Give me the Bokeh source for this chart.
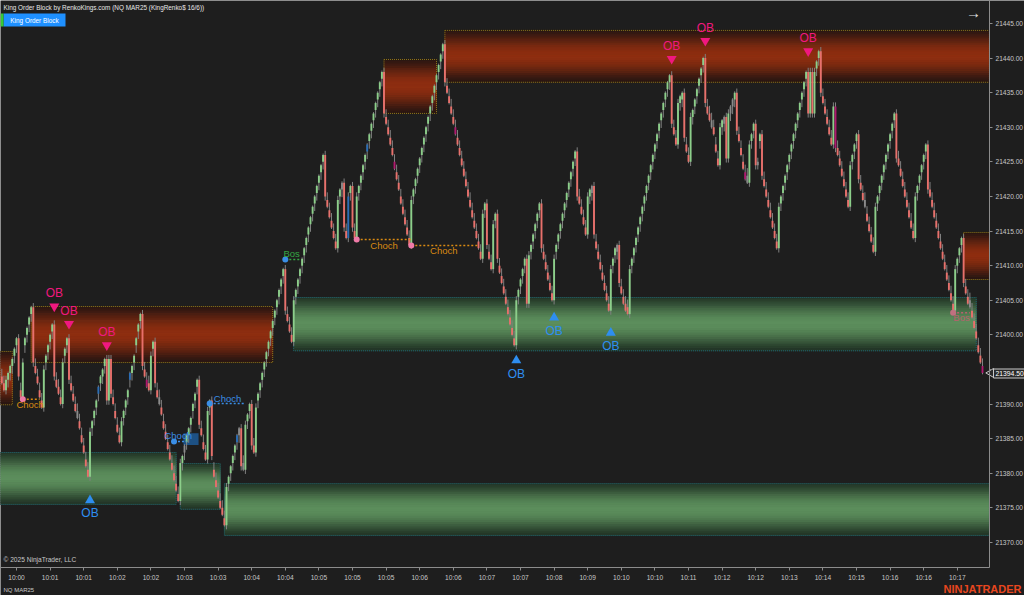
import math
from bokeh.plotting import figure
from bokeh.models import Range1d, FixedTicker, Label, ColumnDataSource, NumeralTickFormatter, LinearAxis
from bokeh.core.properties import value
from bokeh.embed import file_html
from bokeh.resources import INLINE

# ---------------- data ----------------
closes = [
    21393.0, 21392.0, 21393.5, 21394.5, 21395.5, 21396.5, 21398.0, 21399.5, 21394.0, 21391.0,
    21396.0, 21399.5, 21401.0, 21402.5, 21404.0, 21396.0, 21394.5, 21393.0, 21391.0, 21389.5,
    21395.0, 21397.0, 21398.5, 21400.0, 21401.5, 21394.0, 21392.5, 21391.5, 21390.0, 21396.0,
    21398.0, 21399.5, 21393.5, 21392.0, 21390.5, 21389.0, 21388.0, 21386.5, 21384.5, 21383.0,
    21381.0, 21379.5, 21386.0, 21387.5, 21389.0, 21390.5, 21392.5, 21394.0, 21395.0, 21396.5,
    21390.5, 21396.5, 21391.5, 21390.0, 21388.0, 21386.0, 21384.5, 21387.5, 21389.0, 21390.5,
    21392.0, 21394.5, 21395.5, 21397.0, 21399.5, 21401.5, 21403.0, 21395.5, 21394.0, 21392.5,
    21392.0, 21397.0, 21399.0, 21393.0, 21391.0, 21390.0, 21388.5, 21386.5, 21385.0, 21383.5,
    21382.0, 21380.5, 21379.0, 21377.5, 21376.0, 21381.5, 21382.5, 21384.0, 21385.5, 21386.5,
    21388.0, 21390.0, 21391.5, 21393.5, 21387.0, 21385.5, 21383.5, 21382.0, 21389.0, 21390.5,
    21382.5, 21379.5, 21378.0, 21376.5, 21375.0, 21374.0, 21372.5, 21378.0, 21379.5, 21381.0,
    21382.5, 21384.0, 21385.5, 21386.5, 21381.0, 21380.5, 21387.0, 21388.5, 21390.0, 21384.0,
    21383.0, 21389.5, 21391.5, 21393.0, 21394.5, 21396.0, 21397.5, 21399.0, 21400.5, 21402.0,
    21403.5, 21405.0, 21406.5, 21408.0, 21409.5, 21403.5, 21402.0, 21400.5, 21399.0, 21405.0,
    21406.5, 21408.0, 21409.5, 21411.0, 21412.5, 21414.0, 21415.5, 21417.0, 21418.5, 21420.0,
    21421.5, 21423.0, 21424.5, 21426.0, 21420.0, 21418.5, 21417.0, 21415.5, 21414.0, 21412.5,
    21419.5, 21421.0, 21422.0, 21415.5, 21414.0, 21420.0, 21421.5, 21415.5, 21414.0, 21420.0,
    21421.5, 21423.0, 21424.5, 21426.0, 21427.5, 21429.0, 21430.5, 21432.0, 21433.5, 21435.0,
    21436.5, 21438.0, 21432.0, 21430.5, 21429.0, 21427.5, 21426.0, 21424.0, 21422.5, 21421.0,
    21419.0, 21417.5, 21416.0, 21414.5, 21413.0, 21419.5, 21421.0, 21422.5, 21424.0, 21425.5,
    21427.0, 21428.5, 21430.0, 21431.5, 21433.0, 21434.5, 21436.0, 21437.5, 21439.0, 21440.5,
    21442.0, 21436.5, 21435.0, 21433.5, 21432.0, 21430.5, 21429.0, 21427.5, 21426.0, 21424.5,
    21423.0, 21421.5, 21420.0, 21418.5, 21417.0, 21415.5, 21414.0, 21412.5, 21411.0, 21417.5,
    21419.0, 21413.0, 21411.0, 21409.5, 21416.0, 21417.5, 21411.0, 21409.0, 21407.5, 21406.0,
    21404.5, 21403.0, 21401.5, 21400.0, 21398.5, 21405.0, 21406.5, 21408.0, 21409.5, 21411.0,
    21404.5, 21411.5, 21413.0, 21414.5, 21416.0, 21417.5, 21419.0, 21412.5, 21411.0, 21409.5,
    21408.0, 21406.5, 21405.0, 21411.0, 21413.0, 21414.5, 21416.0, 21417.5, 21419.0, 21420.5,
    21422.0, 21423.5, 21425.0, 21426.5, 21420.0, 21419.0, 21417.5, 21416.0, 21414.5, 21420.0,
    21421.0, 21421.5, 21414.5, 21412.5, 21411.0, 21409.5, 21408.0, 21406.5, 21405.0, 21403.5,
    21409.5, 21411.0, 21412.5, 21413.0, 21407.5, 21406.0, 21404.5, 21403.5, 21403.0, 21409.5,
    21411.0, 21412.5, 21414.0, 21415.5, 21417.0, 21418.5, 21420.0, 21421.5, 21423.0, 21424.5,
    21426.0, 21427.5, 21429.0, 21430.5, 21432.0, 21433.5, 21435.0, 21436.5, 21437.5, 21430.5,
    21429.0, 21427.5, 21433.5, 21434.5, 21435.0, 21428.5, 21426.5, 21425.0, 21431.5, 21432.5,
    21434.0, 21435.5, 21437.0, 21438.5, 21440.0, 21433.5, 21432.0, 21431.0, 21430.0, 21429.0,
    21426.5, 21424.5, 21430.0, 21431.0, 21431.5, 21425.5, 21432.0, 21433.0, 21434.0, 21435.0,
    21429.5, 21428.0, 21426.0, 21424.0, 21422.5, 21422.0, 21427.5, 21429.0, 21430.5, 21424.5,
    21425.0, 21429.0, 21423.0, 21421.5, 21420.0, 21418.5, 21417.0, 21415.5, 21414.0, 21412.5,
    21418.5, 21420.0, 21421.5, 21423.0, 21424.5, 21426.0, 21427.5, 21429.0, 21430.5, 21432.0,
    21433.5, 21435.0, 21436.5, 21438.0, 21432.0, 21438.0, 21432.0, 21438.0, 21439.5, 21441.0,
    21435.0, 21433.5, 21432.0, 21430.5, 21429.0, 21427.5, 21433.0, 21427.0, 21426.0, 21424.5,
    21423.0, 21421.5, 21420.0, 21418.5, 21424.5, 21426.0, 21427.5, 21429.0, 21422.5, 21421.0,
    21419.5, 21418.5, 21416.5, 21415.0, 21413.5, 21412.0, 21418.5, 21420.0, 21421.5, 21423.0,
    21424.5, 21426.0, 21427.5, 21429.0, 21430.5, 21432.0, 21425.5, 21424.5, 21423.0, 21421.5,
    21420.0, 21418.5, 21417.0, 21415.5, 21414.0, 21420.0, 21421.5, 21423.0, 21424.5, 21426.0,
    21427.5, 21421.0, 21420.0, 21418.5, 21417.0, 21415.5, 21414.0, 21412.5, 21411.0, 21409.5,
    21408.0, 21406.5, 21405.0, 21403.5, 21409.5, 21411.0, 21412.5, 21414.0, 21407.5, 21406.0,
    21404.5, 21404.0, 21402.5, 21401.0, 21399.5, 21397.5, 21396.0, 21394.5,
]
blue_bars = [46, 61, 112, 165, 174]
magenta_bars = [69, 187, 216, 354, 397, 467]
gray_bars = [36, 75, 87, 113, 115, 162, 281, 293, 338, 344, 347, 348, 355, 360, 411, 461]

tick_bars = [7, 23, 39, 55, 71, 87, 103, 119, 135, 151, 167, 183, 199, 215, 231,
             247, 263, 279, 295, 311, 327, 343, 359, 375, 391, 407, 423, 439, 455]
tick_labels = ["10:00", "10:01", "10:01", "10:02", "10:02", "10:03", "10:03", "10:04", "10:04",
               "10:05", "10:05", "10:05", "10:06", "10:06", "10:07", "10:07", "10:08", "10:09",
               "10:10", "10:10", "10:11", "10:12", "10:12", "10:13", "10:14", "10:15", "10:16",
               "10:16", "10:17"]
price_ticks = [21370, 21375, 21380, 21385, 21390, 21395, 21400, 21405, 21410,
               21415, 21420, 21425, 21430, 21435, 21440, 21445]

# order-block zones (bar index from/to, price top/bottom)
bear_left = [-1, 14, 182, 211, 458]
bear_right = [5, 129, 207, 470.3, 470.3]
bear_top = [21397.6, 21404.1, 21439.8, 21444.0, 21414.8]
bear_bottom = [21389.9, 21396.0, 21432.0, 21436.5, 21408.0]
bull_left = [-1, 85, 106, 139]
bull_right = [83, 104, 470.3, 464]
bull_top = [21383.0, 21381.4, 21378.5, 21405.4]
bull_bottom = [21375.5, 21374.8, 21371.0, 21397.7]

# OB signals
bear_sig_bar = [25, 32, 50, 319, 335, 384]
bear_sig_price = [21404.1, 21401.6, 21398.5, 21439.9, 21442.5, 21441.0]
bull_sig_bar = [42, 245, 263, 290]
bull_sig_price = [21376.1, 21396.3, 21402.5, 21400.3]

# structure breaks
brk_from = [10, 169, 195, 82, 99, 135, 453]
brk_to = [18, 195, 227, 88, 116, 142, 461]
brk_level = [21390.7, 21413.8, 21412.9, 21384.6, 21390.1, 21410.9, 21403.2]
brk_text = ["Choch", "Choch", "Choch", "Choch", "Choch", "Bos", "Bos"]
brk_tx = [13.5, 182, 210.5, 84, 107.5, 138, 457]
brk_ty = [21389.9, 21412.9, 21412.2, 21385.4, 21390.8, 21411.7, 21402.5]
brk_kind = ["bear", "bear", "bear", "bull", "bull", "bos_up", "bos_dn"]

last_price = 21394.50

# ---------------- canvas / scales ----------------
BG = "#1e1e1e"
W, H = 1024, 595
PX_PER_BAR = 2.1
PX_PER_PT = 6.92
X0 = -0.62
X1 = X0 + W / PX_PER_BAR
Y1 = 21448.32
Y0 = Y1 - H / PX_PER_PT
FONT = "Liberation Sans"


def px2x(px):
    return X0 + px / PX_PER_BAR


def py2y(py):
    return Y1 - py / PX_PER_PT


AX_X = 989   # pixel column of the price axis
AX_Y = 567   # pixel row of the time axis

p = figure(width=W, height=H, output_backend="svg", toolbar_location=None,
           x_range=Range1d(X0, X1), y_range=Range1d(Y0, Y1),
           x_axis_location=None, y_axis_location=None,
           min_border_left=0, min_border_top=0, min_border_right=0, min_border_bottom=0)
p.background_fill_color = BG
p.border_fill_color = BG
p.outline_line_color = None
p.grid.visible = False

yax = LinearAxis(fixed_location=px2x(AX_X), bounds=(py2y(AX_Y), Y1),
                 ticker=FixedTicker(ticks=price_ticks), formatter=NumeralTickFormatter(format="0.00"),
                 major_label_overrides={21395: ""})
xax = LinearAxis(fixed_location=py2y(AX_Y), bounds=(X0, px2x(AX_X)),
                 ticker=FixedTicker(ticks=tick_bars),
                 major_label_overrides={t: l for t, l in zip(tick_bars, tick_labels)})
for ax in (xax, yax):
    ax.axis_line_color = "#8c8c8c"
    ax.major_tick_line_color = "#8c8c8c"
    ax.minor_tick_line_color = None
    ax.major_tick_out = 3
    ax.major_tick_in = 0
    ax.major_label_text_color = "#c8c8c8"
    ax.major_label_text_font = FONT
    ax.major_label_text_font_size = "6.6px"
    ax.major_label_standoff = 3
p.add_layout(yax, "right")
p.add_layout(xax, "below")


def mix(c1, c2, t):
    return "#%02x%02x%02x" % tuple(int(round(a + (b - a) * t)) for a, b in zip(c1, c2))


def gradient_boxes(lefts, rights, tops, bottoms, edge, center, border):
    N = 24
    L, R, T, B, C = [], [], [], [], []
    for l, r, t, b in zip(lefts, rights, tops, bottoms):
        h = (t - b) / N
        for k in range(N):
            f = math.sin(math.pi * (k + 0.5) / N) ** 1.3
            L.append(l); R.append(r)
            T.append(t - k * h); B.append(t - (k + 1) * h)
            C.append(mix(edge, center, f))
    p.quad(left=L, right=R, top=T, bottom=B, fill_color=C, line_color=C, line_width=1)
    p.quad(left=lefts, right=rights, top=tops, bottom=bottoms, fill_color=None,
           line_color=border, line_width=1, line_dash="1 1")


gradient_boxes(bull_left, bull_right, bull_top, bull_bottom, (34, 52, 38), (92, 142, 92), "#1f6170")
gradient_boxes(bear_left, bear_right, bear_top, bear_bottom, (40, 22, 18), (142, 46, 16), "#8a7a1e")

# small blue highlight near Choch
p.quad(left=[86.5], right=[93.7], top=[21385.8], bottom=[21384.1], fill_color="#1d5a96",
       fill_alpha=0.85, line_color=None)

# ---------------- candles ----------------
xs, tops, bots, his, los, cols = [], [], [], [], [], []
for i, c in enumerate(closes):
    if i == 0:
        o, d, rev = c + 1.0, -1, False
    else:
        prev = closes[i - 1]
        d = (c > prev) - (c < prev)
        pd_ = d if i < 2 else (prev > closes[i - 2]) - (prev < closes[i - 2])
        rev = d != pd_
        if d == 0:
            o = c - 0.6
        elif not rev:
            o = c - d * 1.0
        else:
            o = prev
    top, bot = max(o, c), min(o, c)
    if rev:
        hi, lo = top + 0.6, bot - 0.6
    elif d > 0:
        hi, lo = top + 0.2, bot - 1.1
    else:
        hi, lo = top + 1.1, bot - 0.2
    xs.append(i); tops.append(top); bots.append(bot); his.append(hi); los.append(lo)
    if i in blue_bars:
        cols.append("#2a6db5")
    elif i in magenta_bars:
        cols.append("#b0186e")
    elif i in gray_bars:
        cols.append("#8a8a8a")
    else:
        cols.append("#8ccf8a" if c >= o else "#e8706b")

src = ColumnDataSource(dict(x=xs, top=tops, bottom=bots, hi=his, lo=los, color=cols))
p.segment(x0="x", y0="lo", x1="x", y1="hi", source=src, line_color="#808080", line_width=1)
p.vbar(x="x", width=0.9, top="top", bottom="bottom", source=src, fill_color="color", line_color=None)

# ---------------- structure lines ----------------
kind_col = {"bear": "#d98a12", "bull": "#3a8ee6", "bos_up": "#35a845", "bos_dn": "#b8606e"}
dot_col = {"bear": "#f07aa8", "bull": "#3a8ee6", "bos_up": "#3a8ee6", "bos_dn": "#c07080"}
for f, t, lv, tx, lx, ly, k in zip(brk_from, brk_to, brk_level, brk_text, brk_tx, brk_ty, brk_kind):
    p.segment(x0=[f], y0=[lv], x1=[t], y1=[lv], line_color=kind_col[k], line_width=1.5, line_dash="2 2")
    p.scatter(x=[f], y=[lv], size=6, marker="circle", fill_color=dot_col[k], line_color=None)
    p.text(x=[lx], y=[ly], text=[tx], text_color=kind_col[k], text_font=value(FONT),
           text_font_size=value("9.5px"), text_align="center", text_baseline="middle")

# ---------------- OB signals ----------------
p.scatter(x=bear_sig_bar, y=bear_sig_price, marker="inverted_triangle", size=10,
          fill_color="#f0187f", line_color=None)
p.text(x=bear_sig_bar, y=[v + 1.9 for v in bear_sig_price], text=["OB"] * len(bear_sig_bar),
       text_color="#f0187f", text_font=value(FONT), text_font_size=value("12px"),
       text_align="center", text_baseline="middle")
p.scatter(x=bull_sig_bar, y=bull_sig_price, marker="triangle", size=10,
          fill_color="#2e8ef0", line_color=None)
p.text(x=bull_sig_bar, y=[v - 1.9 for v in bull_sig_price], text=["OB"] * len(bull_sig_bar),
       text_color="#2e8ef0", text_font=value(FONT), text_font_size=value("12px"),
       text_align="center", text_baseline="middle")


# ---------------- chrome ----------------
def slabel(px, py, text, color="#d0d0d0", size="8px", align="left", bold=False, **kw):
    lab = Label(x=px, y=H - py, x_units="screen", y_units="screen", text=text,
                text_color=color, text_font=FONT, text_font_size=size, text_align=align,
                text_baseline="middle", text_font_style="bold" if bold else "normal", **kw)
    p.add_layout(lab)


slabel(3, 7, "King Order Block by RenkoKings.com (NQ MAR25 (KingRenko$ 16/6))", "#e6e6e6", "6.4px")
p.quad(left=[px2x(3)], right=[px2x(65)], top=[py2y(13)], bottom=[py2y(26)],
       fill_color="#1e90ff", line_color=None)
p.quad(left=[px2x(0)], right=[px2x(3)], top=[py2y(13)], bottom=[py2y(26)],
       fill_color="#36c836", line_color=None)
slabel(34, 19.5, "King Order Block", "#ffffff", "6.4px", "center")
slabel(973, 12, "\u2192", "#e0e0e0", "15px", "center")
slabel(3, 559, "\u00a9 2025 NinjaTrader, LLC", "#c8c8c8", "6.6px")
slabel(3, 589, "NQ MAR25", "#c8c8c8", "6px")
slabel(1021, 588, "NINJATRADER", "#e8461e", "11px", "right", bold=True)

# last-price marker on the price axis
p.scatter(x=[px2x(990.5)], y=[last_price], marker="triangle", angle=math.pi / 2, size=9,
          fill_color="#2a2a2a", line_color="#c8c8c8", line_width=1)
pl = Label(x=993, y=H - 373, x_units="screen", y_units="screen", text="%.2f" % last_price,
           text_color="#ffffff", text_font=FONT, text_font_size="6.8px", text_baseline="middle",
           background_fill_color="#2a2a2a", border_line_color="#c8c8c8", padding=2)
p.add_layout(pl)

template = """{% extends base %}
{% block preamble %}<style>html,body{margin:0;padding:0;background:#1e1e1e;overflow:hidden;}</style>{% endblock %}"""
try:
    html = file_html(p, INLINE, template=template)
except Exception:
    html = file_html(p, INLINE)
open("out.html", "w").write(html)
